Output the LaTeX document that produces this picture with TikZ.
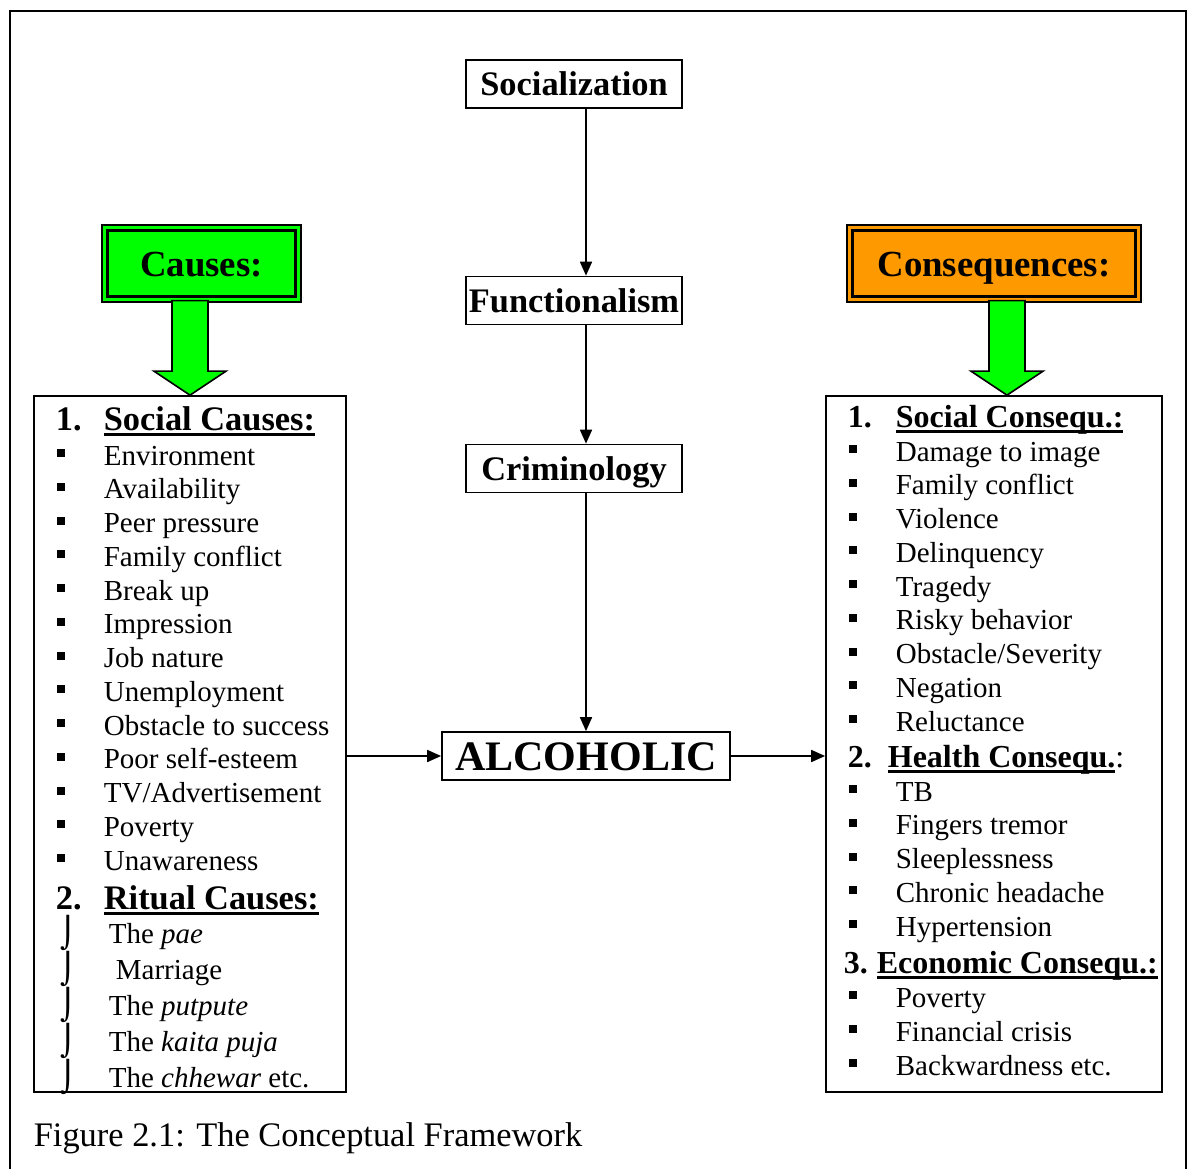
\documentclass[tikz,border=0pt]{standalone}
\usepackage{fontspec}
\setmainfont{Liberation Serif}
\newfontfamily\dejavu{DejaVu Sans}
\usetikzlibrary{calc}
\usetikzlibrary{arrows.meta}
\definecolor{causegreen}{RGB}{0,255,0}
\definecolor{conorange}{RGB}{255,153,0}
\newcommand{\itemsize}{\fontsize{14.5}{17}\selectfont}
\newcommand{\headsize}{\fontsize{17.2}{20}\selectfont\bfseries}
\newsavebox{\ulbox}
\newcommand{\uln}[1]{\sbox{\ulbox}{#1}\rlap{\rule[-3pt]{\wd\ulbox}{1.4pt}}\usebox{\ulbox}}

\begin{document}
\begin{tikzpicture}[x=0.5pt, y=-0.5pt, >={Triangle[length=7pt,width=6pt]}, line width=.85pt,
	theory/.style={draw, fill=white, minimum width=108pt, minimum height=24pt, inner sep=0pt,
		font=\headsize, text height=13pt, text depth=1.5pt},
	titlebox/.style={draw, line width=.6pt, inner sep=0pt, minimum height=38.5pt,
		font=\fontsize{18.4}{22}\selectfont\bfseries, text height=14pt, text depth=1.5pt},
	listbox/.style={draw, minimum height=348pt, inner sep=0pt},
	itemtxt/.style={anchor=base west, inner sep=0pt, font=\itemsize},
	headtxt/.style={anchor=base west, inner sep=0pt, font=\headsize},
	rheadtxt/.style={headtxt, font=\fontsize{16}{19}\selectfont\bfseries},
	sqbullet/.style={fill=black, inner sep=0pt, minimum size=4pt},
	ritbullet/.style={anchor=base, inner sep=0pt, font=\dejavu\fontsize{15}{17}\selectfont},
	greenarrow/.style={draw, fill=causegreen, line width=.8pt, line join=miter}]
	\clip (0,0) rectangle (1189,1168);
	\draw[line width=1pt] (10,1180) -- (10,11) -- (1186,11) -- (1186,1180);

	\node[theory] (soc) at (574,84) {Socialization};
	\node[theory] (fun) at (574,300.5) {Functionalism};
	\node[theory] (crim) at (574,468.5) {Criminology};
	\node[theory, minimum width=144pt, font=\fontsize{21}{25}\selectfont\bfseries,
		text height=15pt, text depth=.8pt] (alc) at (586,756) {ALCOHOLIC};

	\node[listbox, minimum width=156pt] (lbox) at (190,744) {};
	\node[listbox, minimum width=168pt] (rbox) at (994,744) {};

	\node[titlebox, fill=causegreen, minimum width=99.5pt] (causes) at (201.5,263.5) {Causes:};
	\node[titlebox, fill=conorange, minimum width=147pt] (cons) at (994,263.5) {Consequences:};
	\draw[line width=1.5pt] ([shift={(3.2pt,-3.2pt)}]causes.north west) rectangle ([shift={(-3.2pt,3.2pt)}]causes.south east);
	\draw[line width=1.5pt] ([shift={(3.2pt,-3.2pt)}]cons.north west) rectangle ([shift={(-3.2pt,3.2pt)}]cons.south east);

	\coordinate (ltip) at (lbox.north);
	\coordinate (lshaftr) at ($(ltip)+(18,0)$);
	\coordinate (lshaftl) at ($(ltip)+(-18,0)$);
	\draw[greenarrow] (ltip) -- ++(36,-24) -- ++(-18,0) -- ([yshift=1pt]lshaftr |- causes.south)
		-- ([yshift=1pt]lshaftl |- causes.south) -- ($(ltip)+(-18,-24)$) -- ++(-18,0) -- cycle;
	\coordinate (rtip) at ($(rbox.north)+(13,0)$);
	\coordinate (rshaftr) at ($(rtip)+(18,0)$);
	\coordinate (rshaftl) at ($(rtip)+(-18,0)$);
	\draw[greenarrow] (rtip) -- ++(36,-24) -- ++(-18,0) -- ([yshift=1pt]rshaftr |- cons.south)
		-- ([yshift=1pt]rshaftl |- cons.south) -- ($(rtip)+(-18,-24)$) -- ++(-18,0) -- cycle;

	\draw[->] (alc |- soc.south) -- (alc |- fun.north);
	\draw[->] (alc |- fun.south) -- (alc |- crim.north);
	\draw[->] (alc |- crim.south) -- (alc.north);
	\draw[->] (lbox.east |- alc) -- (alc.west);
	\draw[->] (alc.east) -- (rbox.west |- alc);

	% causes
	\node[headtxt] (n1l) at (55,430) {1.};
	\node[headtxt] (h1l) at (103,430) {\uln{Social Causes:}};
	\foreach \txt [count=\i] in {Environment, Availability, Peer pressure, Family conflict,
		Break up, Impression, Job nature, Unemployment, Obstacle to success,
		Poor self-esteem, TV/Advertisement, Poverty, Unawareness} {
		\node[sqbullet] (scb\i) at (61,{419.25+33.75*\i}) {};
		\node[itemtxt] (sc\i) at (103,{431.25+33.75*\i}) {\txt};
	}
	\node[headtxt] (n2l) at (55,909) {2.};
	\node[headtxt] (h2l) at (103,909) {\uln{Ritual Causes:}};
	\foreach \x/\txt [count=\i] in {108/The \textit{pae}, 115/Marriage, 108/The \textit{putpute},
		108/The \textit{kaita puja}, 108/The \textit{chhewar} etc.} {
		\node[ritbullet] (rcb\i) at (68,{907+36*\i}) {⌡};
		\node[itemtxt] (rc\i) at (\x,{907+36*\i}) {\txt};
	}

	% consequences
	\node[rheadtxt] (n1r) at (847,427) {1.};
	\node[rheadtxt] (h1r) at (895,427) {\uln{Social Consequ.:}};
	\foreach \txt [count=\i] in {Damage to image, Family conflict, Violence, Delinquency,
		Tragedy, Risky behavior, Obstacle/Severity, Negation, Reluctance} {
		\node[sqbullet] (sqb\i) at (853,{415.25+33.75*\i}) {};
		\node[itemtxt] (sq\i) at (895,{427.25+33.75*\i}) {\txt};
	}
	\node[rheadtxt] (n2r) at (847,767) {2.};
	\node[rheadtxt] (h2r) at (887,767) {\uln{Health Consequ.}\mdseries:};
	\foreach \txt [count=\i] in {TB, Fingers tremor, Sleeplessness, Chronic headache, Hypertension} {
		\node[sqbullet] (hqb\i) at (853,{755.25+33.75*\i}) {};
		\node[itemtxt] (hq\i) at (895,{767.25+33.75*\i}) {\txt};
	}
	\node[rheadtxt] (n3r) at (843,973) {3.};
	\node[rheadtxt] (h3r) at (876,973) {\uln{Economic Consequ.:}};
	\foreach \txt [count=\i] in {Poverty, Financial crisis, Backwardness etc.} {
		\node[sqbullet] (eqb\i) at (853,{961+34*\i}) {};
		\node[itemtxt] (eq\i) at (895,{973+34*\i}) {\txt};
	}

	\node[anchor=base west, inner sep=0pt, font=\fontsize{17.2}{20}\selectfont] (caption)
		at (33,1146) {Figure 2.1: The Conceptual Framework};
\end{tikzpicture}
\end{document}
